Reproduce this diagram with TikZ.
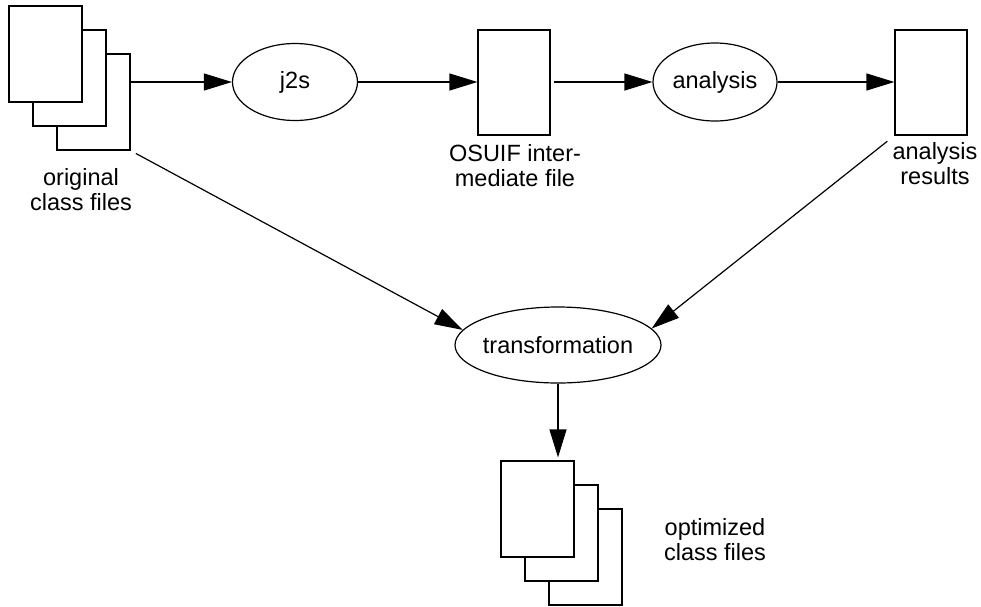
\documentclass[tikz,border=0pt]{standalone}
\usepackage{fontspec}
\setmainfont{Liberation Sans}
\usetikzlibrary{shapes.geometric,arrows.meta}

\tikzset{
  page/.style={draw, fill=white, line width=1.2pt, minimum width=73pt, minimum height=96pt, inner sep=0pt},
  datafile/.style={draw, line width=1.2pt, minimum width=72pt, minimum height=105pt, inner sep=0pt},
  proc/.style={draw, ellipse, line width=1.2pt, inner sep=0pt, font=\fontsize{23.5}{25}\selectfont},
  lbl/.style={align=center, anchor=north, inner sep=0pt, font=\fontsize{23.5}{25}\selectfont},
  flow/.style={line width=1.2pt, -{Triangle[length=28pt,width=17pt]}}
}

\begin{document}
\begin{tikzpicture}[x=1pt, y=-1pt]
\useasboundingbox (0,0) rectangle (981,606);

% original class files
\node[page] (orig3) at (93.5,102) {};
\node[page] (orig2) at (69.5,78) {};
\node[page] (orig1) at (45.5,54) {};
\node[lbl] (origlbl) at (81,168) {original\\class files};

\node[proc, minimum width=125pt, minimum height=77pt] (j2s) at (295,82) {j2s};

\node[datafile] (osuif) at (514,82.5) {};
\node[lbl] (osuiflbl) at (515,144) {OSUIF inter-\\mediate file};

\node[proc, minimum width=124pt, minimum height=78pt] (analysis) at (715,82) {analysis};

\node[datafile] (results) at (931,82.5) {};
\node[lbl] (resultslbl) at (935,142) {analysis\\results};

\node[proc, minimum width=206pt, minimum height=76pt, inner xsep=-3pt] (trans) at (558,345) {transformation};

% optimized class files
\node[page] (opt3) at (585.5,557) {};
\node[page] (opt2) at (561.5,533) {};
\node[page] (opt1) at (537.5,509) {};
\node[lbl] (optlbl) at (715,518) {optimized\\class files};

% -------- flows -----------
\draw[flow] (orig3.east |- j2s.west) -- (j2s.west);
\draw[flow] (j2s.east) -- (j2s.east -| osuif.west);
\draw[flow, shorten <=3pt] (osuif.east |- analysis.west) -- (analysis.west);
\draw[flow] (analysis.east) -- (analysis.east -| results.west);
\draw[flow, shorten <=6pt] (orig3.south east) -- (trans.171);
\draw[flow, shorten <=9pt] (results.south west) -- (trans.10);
\draw[flow, shorten >=3pt] (trans.south) -- (trans.south |- opt1.north);
\end{tikzpicture}
\end{document}
